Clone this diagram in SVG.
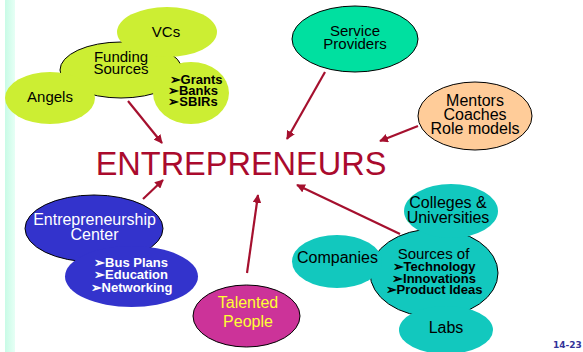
<svg xmlns="http://www.w3.org/2000/svg" width="583" height="352" viewBox="0 0 583 352">
<defs>
<linearGradient id="bar" x1="0" y1="0" x2="1" y2="0">
<stop offset="0" stop-color="#c8fbe6"/><stop offset="1" stop-color="#e6fff5"/>
</linearGradient>
<marker id="ah" viewBox="0 0 10 10" refX="9" refY="5" markerWidth="4" markerHeight="4" orient="auto" markerUnits="strokeWidth">
<path d="M0,0 L10,5 L0,10 Z" fill="#a5102e"/>
</marker>
</defs>
<style>
text{font-family:"Liberation Sans",Arial,sans-serif;text-anchor:middle;fill:#000}
.t{font-size:16px}
.m{font-size:15px}
.b{font-size:13px;font-weight:bold}
.w{fill:#fff}
.y{fill:#ffff33}
.lime{fill:#ccee33}
.teal{fill:#12c8be}
.st{stroke:#000;stroke-width:1}
.arr{stroke:#a5102e;stroke-width:2.2;fill:none;marker-end:url(#ah)}
</style>
<rect x="0" y="0" width="583" height="352" fill="#fff"/>
<rect x="5" y="0" width="10" height="352" fill="url(#bar)"/>

<g id="funding">
<ellipse class="lime st" cx="121" cy="70" rx="61" ry="28"/>
<ellipse class="lime" cx="167" cy="32" rx="50" ry="25"/>
<ellipse class="lime" cx="50" cy="98" rx="45" ry="26"/>
<ellipse class="lime" cx="191" cy="93" rx="38" ry="31"/>
<text class="m" x="166" y="37">VCs</text>
<text class="m" x="121" y="62">Funding</text>
<text class="m" x="121" y="74">Sources</text>
<text class="b" x="196" y="84" font-size="12">➢Grants</text>
<text class="b" x="193" y="95" font-size="12">➢Banks</text>
<text class="b" x="193" y="106" font-size="12">➢SBIRs</text>
<text class="m" x="50" y="102">Angels</text>
</g>

<g id="service">
<ellipse cx="355" cy="39" rx="63" ry="33" fill="#00e0a0" class="st"/>
<text class="m" x="355" y="36">Service</text>
<text class="m" x="355" y="48.5">Providers</text>
</g>

<g id="mentors">
<ellipse cx="475" cy="116" rx="57" ry="34" fill="#ffcc99" class="st"/>
<text class="t" x="475" y="106">Mentors</text>
<text class="t" x="475" y="119.5">Coaches</text>
<text class="t" x="475" y="133.5">Role models</text>
</g>

<g id="entrepreneurs">
<text x="241" y="175" font-size="32.5" style="fill:#aa0a2d">ENTREPRENEURS</text>
</g>

<g id="center">
<ellipse cx="94" cy="228.5" rx="69" ry="33.5" fill="#3333cc" class="st"/>
<ellipse cx="131.5" cy="276.5" rx="66.5" ry="30.5" fill="#3333cc"/>
<text class="t w" x="94.5" y="225">Entrepreneurship</text>
<text class="t w" x="94.5" y="240">Center</text>
<text class="b w" x="131" y="266.5">➢Bus Plans</text>
<text class="b w" x="131" y="279">➢Education</text>
<text class="b w" x="131.5" y="291.5">➢Networking</text>
</g>

<g id="talented">
<ellipse cx="246.5" cy="316" rx="53.5" ry="31" fill="#cc3399" class="st"/>
<text class="t y" x="248" y="307.5">Talented</text>
<text class="t y" x="248" y="327">People</text>
</g>

<g id="tech">
<ellipse class="teal st" cx="434" cy="273" rx="64" ry="44"/>
<ellipse class="teal" cx="451" cy="211" rx="47" ry="27"/>
<ellipse class="teal" cx="337" cy="261.5" rx="45" ry="26.5"/>
<ellipse class="teal" cx="446" cy="330" rx="47" ry="24"/>
<text class="t" x="448" y="207.5">Colleges &amp;</text>
<text class="t" x="448" y="222.5">Universities</text>
<text class="t" x="337.5" y="263">Companies</text>
<text class="m" x="433.5" y="258.5">Sources of</text>
<text class="b" x="434" y="271">➢Technology</text>
<text class="b" x="434" y="282.5">➢Innovations</text>
<text class="b" x="434" y="294">➢Product Ideas</text>
<text class="t" x="446" y="333">Labs</text>
</g>

<g id="connectors">
<line class="arr" x1="128" y1="101" x2="162" y2="143"/>
<line class="arr" x1="325" y1="72" x2="287" y2="139"/>
<line class="arr" x1="418" y1="126" x2="380" y2="141"/>
<line class="arr" x1="143" y1="199" x2="163" y2="180"/>
<line class="arr" x1="247" y1="273" x2="258" y2="195"/>
<line class="arr" x1="400" y1="234" x2="297" y2="185"/>
</g>

<text x="567.5" y="348" font-size="9" font-weight="bold" style="font-family:'DejaVu Sans',sans-serif;fill:#333399">14-23</text>
</svg>
